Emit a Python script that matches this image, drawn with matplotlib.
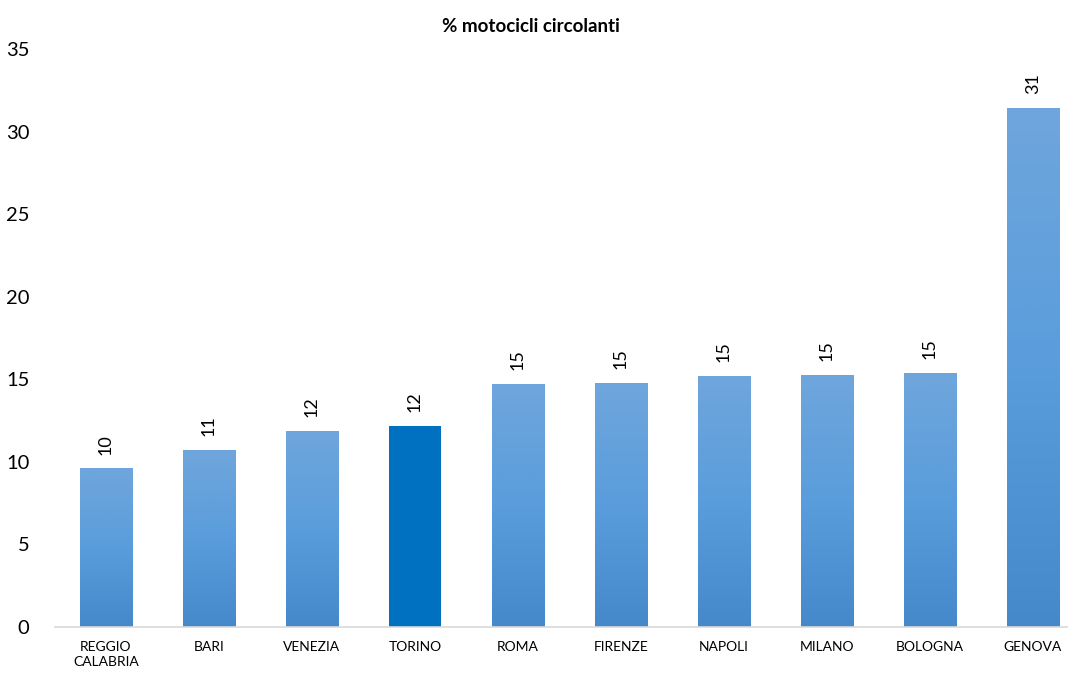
import numpy as np
from matplotlib import pyplot as plt
from matplotlib.colors import LinearSegmentedColormap

# Data
cities = ['REGGIO\nCALABRIA', 'BARI', 'VENEZIA', 'TORINO', 'ROMA',
          'FIRENZE', 'NAPOLI', 'MILANO', 'BOLOGNA', 'GENOVA']
values = [9.6, 10.7, 11.85, 12.15, 14.7, 14.8, 15.2, 15.25, 15.4, 31.45]
highlight = 'TORINO'

plt.rcParams['font.family'] = ['Lato', 'DejaVu Sans']

fig = plt.figure(figsize=(10.68, 6.73), dpi=100)
ax = fig.add_axes([54.5 / 1068, 46 / 673, (1068 - 54.5) / 1068, 578 / 673])

x = np.arange(len(cities))
bars = ax.bar(x, values, width=0.51, color='none', edgecolor='none', zorder=2)

# Gradient fill for the normal bars, solid blue for the highlighted one
grad = LinearSegmentedColormap.from_list('g', ['#4589cb', '#5a9ddc', '#6fa6dc'])
img = np.linspace(0, 1, 256).reshape(-1, 1)
for bar, name in zip(bars, cities):
    x0, y0 = bar.get_x(), bar.get_y()
    w, h = bar.get_width(), bar.get_height()
    if name == highlight:
        bar.set_facecolor('#0070c0')
    else:
        im = ax.imshow(img, cmap=grad, origin='lower', aspect='auto',
                       extent=[x0, x0 + w, y0, y0 + h], zorder=2)
        im.set_clip_path(bar)

# Rotated value labels
for xi, v in zip(x, values):
    ax.annotate('%.0f' % v, (xi, v), xytext=(0, 10), textcoords='offset points',
                rotation=90, ha='center', va='bottom', fontsize=13)

ax.set_xlim(-0.5, 9.34)
ax.set_ylim(0, 35)
ax.set_yticks(range(0, 36, 5))
ax.set_xticks(x)
ax.set_xticklabels(cities, fontsize=10, linespacing=1.35)
ax.tick_params(axis='y', length=0, pad=18, labelsize=14.5)
ax.tick_params(axis='x', length=0, pad=10)

for s in ['top', 'right', 'left']:
    ax.spines[s].set_visible(False)
ax.spines['bottom'].set_color('#d9d9d9')
ax.spines['bottom'].set_linewidth(1.2)

fig.text(0.497, 1 - 27 / 673, '% motocicli circolanti', ha='center', va='center',
         fontsize=13.5, fontweight='bold')

fig.savefig('out.png', dpi=100)
